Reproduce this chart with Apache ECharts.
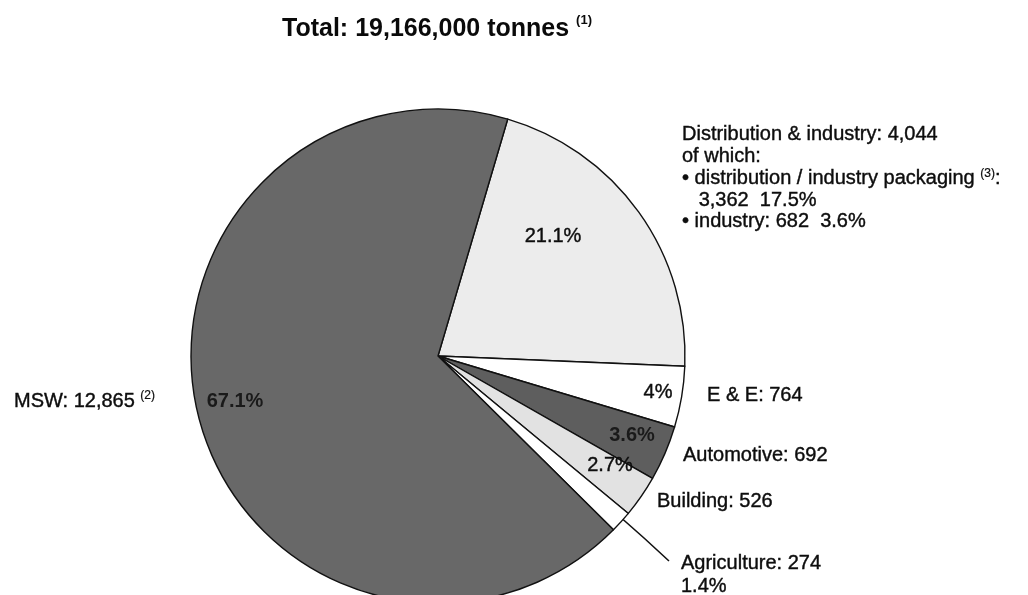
<!DOCTYPE html>
<html>
<head>
<meta charset="utf-8">
<script src="https://cdn.jsdelivr.net/npm/echarts@6/dist/echarts.min.js"></script>
<style>
html,body{margin:0;padding:0;background:#fff;}
#chart{width:1028px;height:595px;}
</style>
</head>
<body>
<div id="chart"></div>
<script>
// ---- data (thousand tonnes) ----
const totalTonnes = 19166000;
const categories = ['Distribution & industry', 'E & E', 'Automotive', 'Building', 'Agriculture', 'MSW'];
const values = [4044, 764, 692, 526, 274, 12865];
const percents = ['21.1%', '4%', '3.6%', '2.7%', '1.4%', '67.1%'];
const notes = ['', '', '', '', '', '(2)'];
const subNames = ['distribution / industry packaging', 'industry'];
const subValues = [3362, 682];
const subPercents = ['17.5%', '3.6%'];
const subNotes = ['(3)', ''];

// ---- styling ----
const sliceColors = ['#ececec', '#ffffff', '#5e5e5e', '#e2e2e2', '#ffffff', '#686868'];
const FONT = '"Liberation Sans", Arial, Helvetica, sans-serif';
const INK = '#0d0d0d';
const fmt = v => v.toLocaleString('en-US');

// label anchor positions (layout only)
const innerPos = [[553, 236], [658, 392], [632, 435], [610, 465], null, [235, 401]];
const outerPos = [[682, 124], [707, 395], [683, 455], [657, 501], [681, 552]];
const mswLabelPos = [14, 401];
const agriLeader = [[618, 515], [644, 538], [669, 561]];

const chart = echarts.init(document.getElementById('chart'), null, {renderer: 'canvas'});

const pieData = categories.map((c, i) => ({
  name: c,
  value: values[i],
  itemStyle: {color: sliceColors[i]}
}));

function outerLabel(i) {
  if (i === 0) {
    const lines = [
      '{t|' + categories[0] + ': ' + fmt(values[0]) + '}',
      '{t|of which:}',
      '{t|\u2022 ' + subNames[0] + ' }{s|' + subNotes[0] + '}{t|:}',
      '{t|   ' + fmt(subValues[0]) + '  ' + subPercents[0] + '}',
      '{t|\u2022 ' + subNames[1] + ': ' + fmt(subValues[1]) + '  ' + subPercents[1] + '}'
    ];
    return lines.join('\n');
  }
  if (i === 4) {
    return '{a|' + categories[i] + ': ' + fmt(values[i]) + '}\n{a|' + percents[i] + '}';
  }
  if (i === 5) {
    return '{t|' + categories[i] + ': ' + fmt(values[i]) + ' }{s|' + notes[i] + '}';
  }
  return '{t|' + categories[i] + ': ' + fmt(values[i]) + '}';
}

const txt = (size, lh) => ({
  fontFamily: FONT, fontSize: size, color: INK, lineHeight: lh,
  textBorderColor: INK, textBorderWidth: 0.4
});

const option = {
  backgroundColor: '#ffffff',
  animation: false,
  title: {
    text: '{a|Total: ' + fmt(totalTonnes) + ' tonnes }{s|(1)}',
    left: 432,
    textAlign: 'center',
    top: 9,
    textStyle: {
      rich: {
        a: {fontFamily: FONT, fontWeight: 'bold', fontSize: 25, color: '#0a0a0a', lineHeight: 30},
        s: {fontFamily: FONT, fontWeight: 'bold', fontSize: 13, color: '#0a0a0a', verticalAlign: 'top', lineHeight: 20}
      }
    }
  },
  series: [
    {
      type: 'pie',
      center: [438, 356],
      radius: 247,
      startAngle: 73.6,
      clockwise: true,
      avoidLabelOverlap: false,
      silent: true,
      itemStyle: {borderColor: '#111', borderWidth: 1.4},
      label: Object.assign({
        show: true,
        position: 'inside',
        formatter: p => p.dataIndex === 4 ? '' : percents[p.dataIndex],
        fontWeight: 'normal'
      }, txt(20, 22)),
      labelLine: {show: false},
      labelLayout: p => {
        const pos = innerPos[p.dataIndex];
        if (!pos) return {};
        return {x: pos[0], y: pos[1], align: 'center', verticalAlign: 'middle'};
      },
      data: pieData.map((d, i) => Object.assign({}, d, {
        label: i === 5 || i === 2 ? {fontWeight: 'bold', color: '#1a1a1a', textBorderWidth: 0} : {}
      }))
    },
    {
      type: 'pie',
      center: [438, 356],
      radius: 247,
      startAngle: 73.6,
      clockwise: true,
      avoidLabelOverlap: false,
      silent: true,
      itemStyle: {color: 'rgba(0,0,0,0)', borderWidth: 0},
      label: {
        show: true,
        position: 'outside',
        formatter: p => outerLabel(p.dataIndex),
        rich: {
          t: txt(20, 21.75),
          a: txt(20, 23),
          s: Object.assign(txt(12, 15), {verticalAlign: 'top', textBorderWidth: 0.2})
        }
      },
      labelLine: {show: false, lineStyle: {color: '#111', width: 1.6}, length: 20, length2: 30},
      labelLayout: p => {
        const i = p.dataIndex;
        if (i === 5) {
          return {x: mswLabelPos[0], y: mswLabelPos[1], align: 'left', verticalAlign: 'middle'};
        }
        const pos = outerPos[i];
        const res = {x: pos[0], y: pos[1], align: 'left', verticalAlign: i === 0 || i === 4 ? 'top' : 'middle'};
        if (i === 4) res.labelLinePoints = agriLeader;
        return res;
      },
      data: pieData.map((d, i) => Object.assign({}, d, {
        itemStyle: {color: 'rgba(0,0,0,0)'},
        labelLine: {show: i === 4}
      }))
    }
  ]
};
chart.setOption(option);
</script>
</body>
</html>
